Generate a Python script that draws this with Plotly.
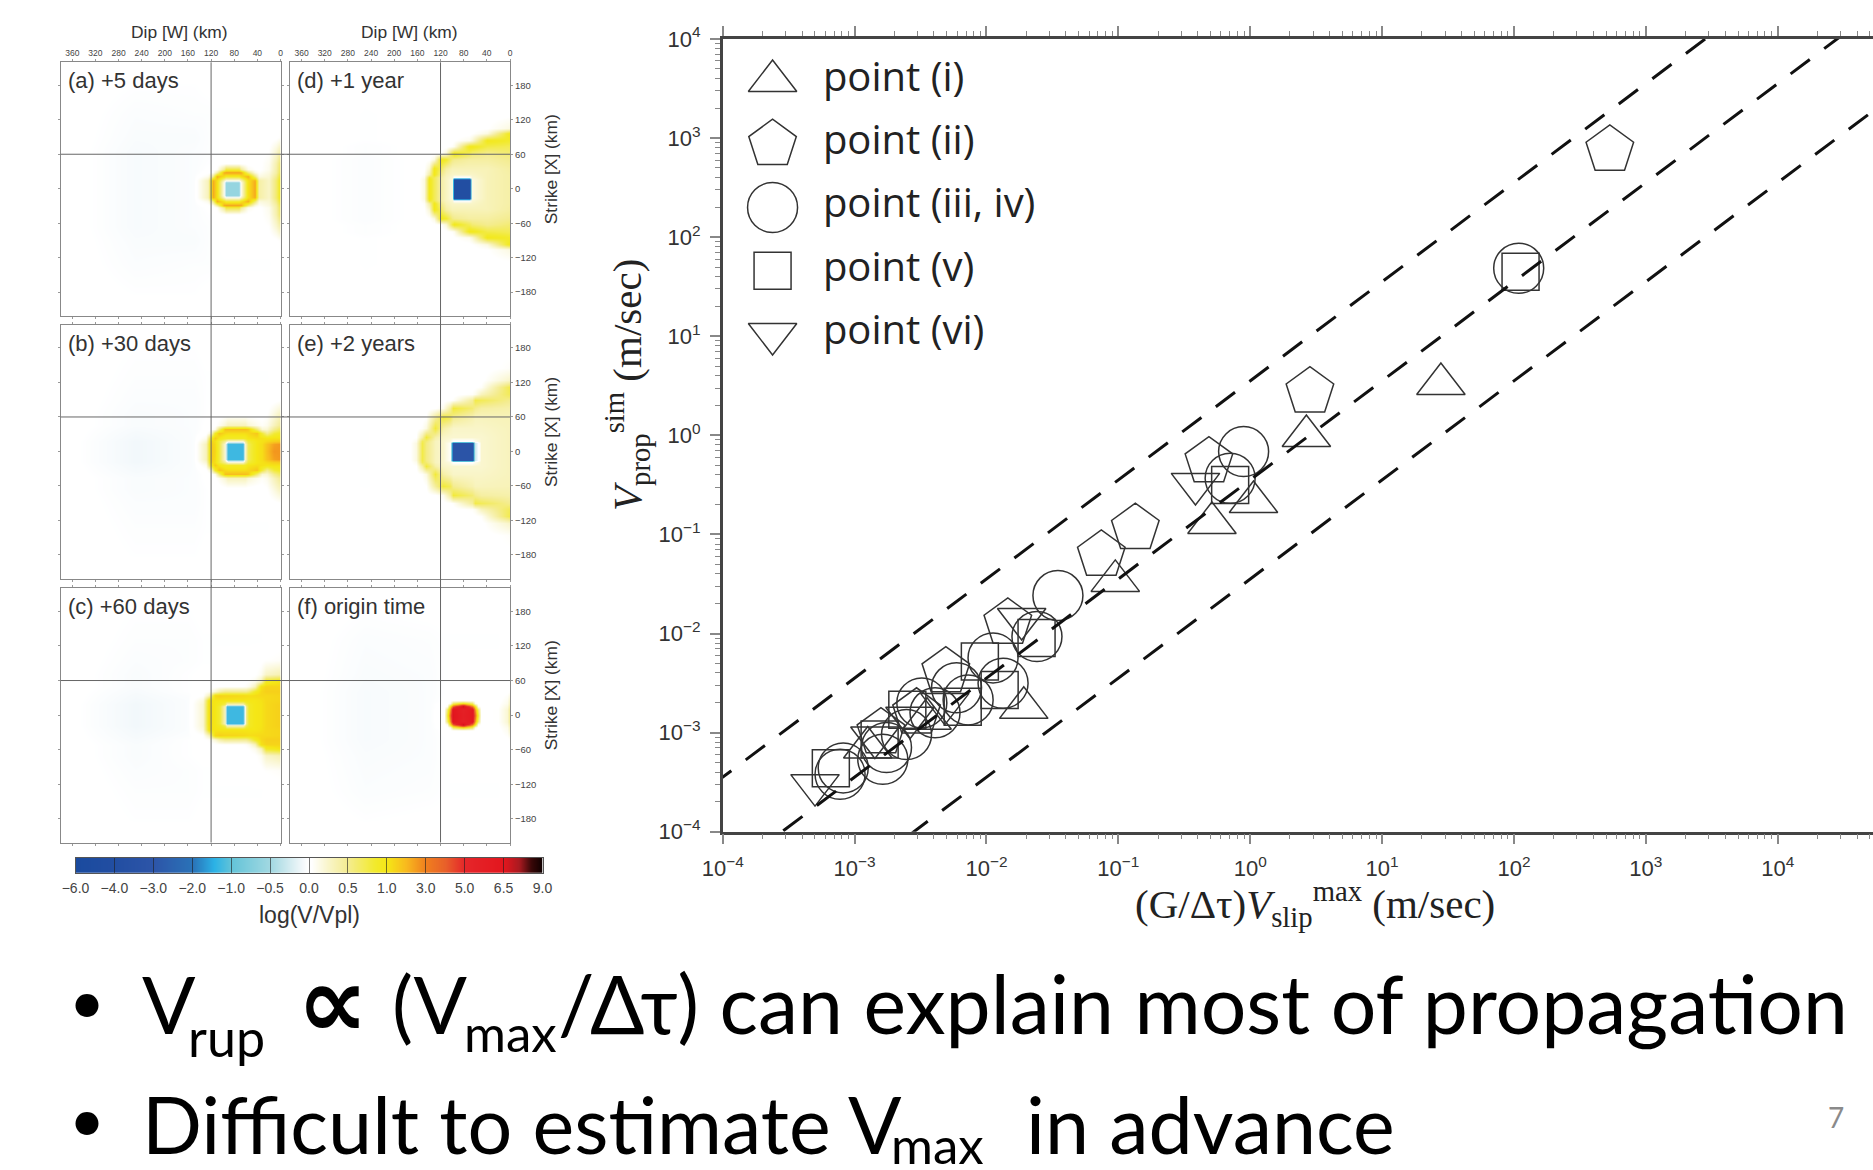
import numpy as np
import plotly.graph_objects as go

W, H = 1873, 1170

# ---------- scatter data (log10 of axis values) ----------
tri_up_x = [1.446, 0.426, 0.025, -0.29, -1.023, -1.717, -2.45, -2.90]
tri_up_y = [0.519, -0.006, -0.672, -0.884, -1.469, -2.75, -2.86, -3.15]
pent_x = [2.727, 0.453, -0.313, -0.871, -1.129, -1.838, -2.308, -2.53, -2.80]
pent_y = [2.88, 0.441, -0.265, -0.937, -1.207, -1.893, -2.384, -2.80, -3.00]
circ_x = [2.036, -0.05, -0.152, -1.458, -1.617, -1.95, -1.874, -2.139, -2.227, -2.39, -2.49, -2.606, -2.758, -2.786, -3.086, -3.11]
circ_y = [1.686, -0.164, -0.433, -1.617, -2.031, -2.246, -2.502, -2.67, -2.548, -2.80, -2.70, -3.02, -3.15, -3.27, -3.356, -3.42]
sq_x = [2.05, -0.152, -1.62, -1.9, -2.05, -2.18, -2.6, -2.81, -3.18]
sq_y = [1.652, -0.5, -2.045, -2.57, -2.283, -2.74, -2.77, -3.07, -3.36]
tri_dn_x = [-0.415, -1.733, -2.316, -2.58, -2.846, -3.30]
tri_dn_y = [-0.49, -1.853, -2.71, -2.85, -3.05, -3.53]

guide_x = [-4.08, 5.0]
guide_upper = [-3.53, 5.55]
guide_x_mid = [-4.05, 5.0]
guide_middle = [-4.5, 4.55]
guide_x_low = [-3.1, 5.0]
guide_lower = [-4.55, 3.55]

decades_x = [-4, -3, -2, -1, 0, 1, 2, 3, 4]
decades_y = [-4, -3, -2, -1, 0, 1, 2, 3, 4]
decade_labels = ["10<sup>−4</sup>", "10<sup>−3</sup>", "10<sup>−2</sup>", "10<sup>−1</sup>", "10<sup>0</sup>",
                 "10<sup>1</sup>", "10<sup>2</sup>", "10<sup>3</sup>", "10<sup>4</sup>"]

legend_labels = ["point (i)", "point (ii)", "point (iii, iv)", "point (v)", "point (vi)"]
legend_symbols = ["triangle-up-open", "pentagon-open", "circle-open", "square-open", "triangle-down-open"]
legend_sizes = [42, 50, 50, 37, 42]

# ---------- colour scale ----------
cb_ticks = [-6.0, -4.0, -3.0, -2.0, -1.0, -0.5, 0.0, 0.5, 1.0, 3.0, 5.0, 6.5, 9.0]
cb_labels = ["−6.0", "−4.0", "−3.0", "−2.0", "−1.0", "−0.5", "0.0", "0.5", "1.0", "3.0", "5.0", "6.5", "9.0"]
cb_positions = list(range(13))
scale_pos = [0, 1, 2, 3, 3.55, 4, 5, 5.6, 5.8, 5.95, 6.05, 6.5, 7, 7.7, 8, 8.5, 9, 9.5, 10, 11, 11.4, 11.7, 12]
scale_col = ["#1a4a9e", "#224ea2", "#2d55a8", "#2a73b8", "#2bb2e6", "#64c4d8", "#a3d9e2", "#dff0f4", "#f2f8fb", "#ffffff", "#ffffff",
             "#f9f5c8", "#f4ec90", "#f2ea2c", "#f5e716", "#f8b91e", "#f07f1e", "#e8602a", "#e5262a", "#e3161e", "#a81a20", "#3a0808", "#0c0000"]
colorscale = [[p / 12, c] for p, c in zip(scale_pos, scale_col)]

# ---------- slip-rate maps: log(V/Vpl), columns = dip (km), rows = |strike| (km) ----------
dip_a = [0, 8, 20, 38, 44, 56, 68, 72, 94, 98, 110, 118, 126, 150, 250, 380]
strike_a = [0, 11, 15, 22, 28, 33, 45, 65, 90, 130, 180, 220]
z_a = [
 [1.0, .6, .25, .4, 2.3, 1.1, .1, -.6, -.6, .1, 1.1, 2.3, .3, -.05, -.07, 0],
 [1.0, .6, .25, .4, 2.3, 1.1, .1, -.6, -.6, .1, 1.1, 2.3, .3, -.05, -.07, 0],
 [1.0, .6, .25, .4, 2.2, 1.1, .3, .1, .1, .3, 1.1, 2.2, .3, -.05, -.07, 0],
 [.9, .5, .2, .15, .6, 2.2, 1.1, .9, .9, 1.1, 2.2, .5, .1, -.05, -.07, 0],
 [.8, .4, .15, .05, .15, .6, 2.3, 2.4, 2.4, 2.2, .4, .05, 0, -.05, -.07, 0],
 [.75, .38, .1, 0, .03, .1, .5, .8, .8, .5, .05, 0, -.02, -.05, -.07, 0],
 [.7, .35, .08, 0, 0, 0, 0, 0, 0, 0, -.02, -.03, -.03, -.05, -.07, 0],
 [.4, .2, .03, -.01, -.02, -.02, -.02, -.02, -.02, -.02, -.03, -.03, -.04, -.05, -.07, 0],
 [.05, 0, -.02, -.02, -.02, -.02, -.02, -.02, -.02, -.02, -.03, -.03, -.04, -.06, -.06, 0],
 [0, -.02, -.03, -.03, -.03, -.03, -.03, -.03, -.03, -.03, -.03, -.03, -.04, -.04, -.05, 0],
 [0, -.01, -.02, -.02, -.02, -.02, -.02, -.02, -.02, -.02, -.02, -.02, -.02, -.03, -.03, 0],
 [0, 0, 0, 0, 0, 0, 0, 0, 0, 0, 0, 0, 0, 0, 0, 0],
]
dip_b = [0, 12, 24, 32, 42, 56, 62, 66, 92, 96, 106, 114, 120, 130, 150, 250, 380]
strike_b = [0, 13, 18, 24, 32, 39, 46, 65, 90, 130, 180, 220]
z_b = [
 [2.6, 2.6, 1.9, 1.2, 1.0, .7, .2, -1.3, -1.3, .2, .8, 1.4, 1.6, .3, -.05, -.1, 0],
 [2.6, 2.4, 1.8, 1.2, 1.0, .7, .2, -1.3, -1.3, .2, .8, 1.3, 1.6, .3, -.05, -.1, 0],
 [1.6, 1.5, 1.3, 1.1, 1.0, .8, .5, .2, .2, .5, .8, 1.2, 1.4, .2, -.05, -.1, 0],
 [1.1, 1.1, 1.0, 1.1, 1.2, 1.0, .9, .9, .9, .9, 1.0, 1.6, .9, .1, -.05, -.09, 0],
 [.9, .8, .5, .8, 1.7, 1.3, 1.2, 1.2, 1.2, 1.3, 1.7, .9, .2, 0, -.05, -.08, 0],
 [.7, .5, .2, .2, .6, 1.7, 1.9, 1.9, 1.9, 1.8, .6, .1, 0, -.02, -.05, -.07, 0],
 [.5, .3, .1, .05, .1, .2, .3, .3, .3, .2, .08, 0, -.01, -.02, -.05, -.06, 0],
 [.3, .15, .02, 0, -.01, -.01, -.01, -.01, -.01, -.01, -.02, -.02, -.02, -.03, -.05, -.06, 0],
 [.02, 0, -.02, -.02, -.02, -.02, -.02, -.02, -.02, -.02, -.02, -.02, -.03, -.03, -.05, -.05, 0],
 [0, -.02, -.03, -.03, -.03, -.03, -.03, -.03, -.03, -.03, -.03, -.03, -.03, -.03, -.04, -.04, 0],
 [0, -.01, -.02, -.02, -.02, -.02, -.02, -.02, -.02, -.02, -.02, -.02, -.02, -.02, -.03, -.03, 0],
 [0, 0, 0, 0, 0, 0, 0, 0, 0, 0, 0, 0, 0, 0, 0, 0, 0],
]
dip_c = [0, 25, 35, 45, 55, 61, 65, 93, 97, 105, 113, 124, 134, 160, 250, 380]
strike_c = [0, 15, 18, 25, 35, 42, 50, 58, 70, 95, 130, 180, 220]
z_c = [
 [1.5, 1.3, 1.05, 1.0, .9, .5, -1.3, -1.3, .3, .8, 1.0, 1.2, .2, -.05, -.1, 0],
 [1.5, 1.3, 1.05, 1.0, .9, .5, -1.3, -1.3, .3, .8, 1.0, 1.2, .2, -.05, -.1, 0],
 [1.5, 1.3, 1.05, 1.0, .9, .7, .3, .3, .7, .9, 1.0, 1.15, .2, -.05, -.1, 0],
 [1.4, 1.3, 1.1, 1.0, 1.0, 1.0, 1.0, 1.0, 1.0, 1.0, 1.05, 1.1, .15, -.05, -.09, 0],
 [1.4, 1.3, 1.3, 1.25, 1.2, 1.25, 1.3, 1.4, 1.4, 1.5, 1.3, .3, .02, -.04, -.08, 0],
 [1.5, 1.5, 1.3, .9, .6, .5, .5, .5, .5, .4, .2, .05, 0, -.03, -.07, 0],
 [1.4, 1.4, 1.1, .3, .1, .05, .03, .03, .03, .02, 0, -.01, -.02, -.03, -.06, 0],
 [1.1, .9, .3, .1, .03, .01, 0, 0, 0, 0, -.01, -.01, -.02, -.03, -.06, 0],
 [.35, .25, .08, .01, 0, -.01, -.01, -.01, -.01, -.01, -.02, -.02, -.02, -.03, -.06, 0],
 [.05, .03, 0, -.01, -.02, -.02, -.02, -.02, -.02, -.02, -.02, -.03, -.03, -.04, -.05, 0],
 [0, -.02, -.03, -.03, -.03, -.03, -.03, -.03, -.03, -.03, -.03, -.03, -.03, -.04, -.04, 0],
 [0, -.01, -.02, -.02, -.02, -.02, -.02, -.02, -.02, -.02, -.02, -.02, -.02, -.03, -.03, 0],
 [0, 0, 0, 0, 0, 0, 0, 0, 0, 0, 0, 0, 0, 0, 0, 0],
]
dip_d = [0, 40, 65, 70, 96, 101, 110, 120, 132, 140, 148, 160, 250, 380]
strike_d = [0, 16, 20, 25, 35, 51, 62, 74, 85, 97, 106, 130, 180, 220]
z_d = [
 [.4, .32, .15, -4, -4, .15, .28, .4, .7, .95, .15, -.02, -.05, 0],
 [.4, .32, .15, -4, -4, .15, .28, .4, .7, .95, .15, -.02, -.05, 0],
 [.4, .32, .2, 0, 0, .2, .28, .4, .7, .85, .1, -.02, -.05, 0],
 [.4, .32, .25, .25, .25, .25, .32, .5, .95, .4, .05, -.02, -.05, 0],
 [.42, .32, .32, .32, .32, .32, .42, .65, .95, .2, .02, -.02, -.05, 0],
 [.5, .42, .42, .42, .5, .55, .85, .95, .15, .02, 0, -.02, -.05, 0],
 [.6, .5, .6, .7, .95, .8, .2, .03, 0, -.01, -.01, -.02, -.04, 0],
 [.7, .75, .95, .95, .1, .05, 0, -.01, -.01, -.01, -.01, -.02, -.04, 0],
 [.85, .95, .2, .1, .02, 0, -.01, -.01, -.01, -.01, -.02, -.02, -.03, 0],
 [.95, .15, .02, 0, -.01, -.01, -.01, -.02, -.02, -.02, -.02, -.02, -.03, 0],
 [.15, .02, 0, -.01, -.01, -.01, -.01, -.02, -.02, -.02, -.02, -.02, -.03, 0],
 [0, -.01, -.02, -.02, -.02, -.02, -.02, -.02, -.02, -.02, -.02, -.02, -.03, 0],
 [0, -.01, -.01, -.01, -.01, -.01, -.01, -.01, -.01, -.01, -.01, -.01, -.02, 0],
 [0, 0, 0, 0, 0, 0, 0, 0, 0, 0, 0, 0, 0, 0],
]
dip_e = [0, 50, 60, 66, 98, 104, 115, 130, 145, 152, 162, 175, 250, 380]
strike_e = [0, 15, 19, 25, 40, 60, 75, 90, 100, 113, 125, 145, 190, 220]
z_e = [
 [.3, .22, -.3, -3.2, -3.2, .05, .22, .3, .55, .75, .15, 0, -.03, 0],
 [.3, .22, -.3, -3.2, -3.2, .05, .22, .3, .55, .75, .15, 0, -.03, 0],
 [.3, .22, .1, 0, 0, .15, .22, .3, .6, .7, .1, 0, -.03, 0],
 [.3, .22, .22, .22, .22, .22, .25, .4, .8, .4, .03, 0, -.03, 0],
 [.3, .25, .25, .25, .25, .3, .4, .8, .15, .05, 0, -.01, -.03, 0],
 [.32, .3, .3, .35, .5, .7, .8, .45, .03, 0, -.01, -.01, -.03, 0],
 [.38, .42, .5, .6, .8, .45, .1, .02, 0, -.01, -.01, -.01, -.02, 0],
 [.5, .7, .75, .45, .05, .02, 0, -.01, -.01, -.01, -.01, -.01, -.02, 0],
 [.7, .3, .1, .05, 0, -.01, -.01, -.01, -.01, -.01, -.01, -.01, -.02, 0],
 [.75, .05, .02, 0, -.01, -.01, -.01, -.01, -.01, -.01, -.01, -.01, -.02, 0],
 [.25, 0, -.01, -.01, -.01, -.01, -.01, -.01, -.01, -.01, -.01, -.01, -.02, 0],
 [.05, -.01, -.01, -.01, -.01, -.01, -.01, -.01, -.01, -.01, -.01, -.01, -.01, 0],
 [0, 0, -.01, -.01, -.01, -.01, -.01, -.01, -.01, -.01, -.01, -.01, -.01, 0],
 [0, 0, 0, 0, 0, 0, 0, 0, 0, 0, 0, 0, 0, 0],
]
dip_f = [0, 6, 20, 50, 56, 60, 66, 82, 98, 104, 108, 114, 140, 250, 380]
strike_f = [0, 10, 16, 21, 26, 40, 70, 130, 180, 220]
z_f = [
 [.5, .2, .03, .02, .8, 3.5, 6.2, 5.7, 6.6, 3.5, .8, .02, -.05, -.07, 0],
 [.5, .2, .03, .02, .6, 2.5, 6.2, 5.5, 6.5, 2.5, .6, .02, -.05, -.07, 0],
 [.4, .15, .02, .01, .1, 1.0, 3.5, 7.0, 4.0, 1.0, .1, 0, -.05, -.07, 0],
 [.3, .1, .01, 0, 0, .1, .7, 1.2, .7, .1, 0, 0, -.05, -.07, 0],
 [.25, .08, 0, -.01, -.01, -.01, 0, .02, 0, -.01, -.01, -.02, -.05, -.07, 0],
 [.05, .02, -.01, -.02, -.02, -.02, -.02, -.02, -.02, -.02, -.02, -.03, -.05, -.07, 0],
 [0, -.01, -.02, -.02, -.02, -.02, -.02, -.02, -.02, -.02, -.03, -.03, -.05, -.06, 0],
 [0, -.02, -.03, -.03, -.03, -.03, -.03, -.03, -.03, -.03, -.03, -.03, -.04, -.05, 0],
 [0, -.01, -.02, -.02, -.02, -.02, -.02, -.02, -.02, -.02, -.02, -.02, -.02, -.03, 0],
 [0, 0, 0, 0, 0, 0, 0, 0, 0, 0, 0, 0, 0, 0, 0],
]

panel_titles = ["(a) +5 days", "(b) +30 days", "(c) +60 days", "(d) +1 year", "(e) +2 years", "(f) origin time"]
panel_data = [(dip_a, strike_a, z_a), (dip_b, strike_b, z_b), (dip_c, strike_c, z_c),
              (dip_d, strike_d, z_d), (dip_e, strike_e, z_e), (dip_f, strike_f, z_f)]
dip_ticks = [360, 320, 280, 240, 200, 160, 120, 80, 40, 0]
strike_ticks = [180, 120, 60, 0, -60, -120, -180]
cross_dip = 120
cross_strike = 60

# ---------- pixel layout helpers ----------
def dx(a, b):
    return [a / W, b / W]
def dy(top, bottom):
    return [1 - bottom / H, 1 - top / H]

col_x = [(60.7, 280.5), (290, 510)]
row_y = [(62.3, 315.7), (325, 578.5), (588.3, 842.5)]
GRAY = "#666666"
fig = go.Figure()
layout = {}
ax_n = 0

for i, (title, (dips, strikes, zz)) in enumerate(zip(panel_titles, panel_data)):
    ax_n += 1
    c, r = i // 3, i % 3
    suffix = str(ax_n) if ax_n > 1 else ""
    z = np.array(zz, dtype=float)
    s = np.array(strikes, dtype=float)
    full_s = np.concatenate([-s[::-1], s[1:]])
    full_z = np.vstack([z[::-1], z[1:]])
    idx = np.interp(full_z, cb_ticks, cb_positions)
    fig.add_trace(go.Heatmap(x=dips, y=full_s, z=idx, zmin=0, zmax=12, colorscale=colorscale, zsmooth="best",
                             showscale=False, hoverinfo="skip", xaxis="x" + suffix, yaxis="y" + suffix))
    layout["xaxis" + suffix] = dict(
        domain=dx(*col_x[c]), range=[380, 0], anchor="y" + suffix, side="top", automargin=False,
        tickmode="array", tickvals=dip_ticks, showticklabels=(r == 0),
        ticks="outside", ticklen=2, tickcolor="#999999", mirror="ticks",
        showline=True, linecolor="#888888", linewidth=1, showgrid=False, zeroline=False,
        tickfont=dict(family="Liberation Sans", size=8.5, color="#444444"))
    layout["yaxis" + suffix] = dict(
        domain=dy(*row_y[r]), range=[-221, 220], anchor="x" + suffix, side="right" if c == 1 else "left", automargin=False,
        tickmode="array", tickvals=strike_ticks, showticklabels=(c == 1),
        ticks="outside", ticklen=2, tickcolor="#999999", mirror="ticks",
        showline=True, linecolor="#888888", linewidth=1, showgrid=False, zeroline=False,
        tickfont=dict(family="Liberation Sans", size=9.5, color="#444444"))

# colour bar
ax_n += 1
cb_suffix = str(ax_n)
fig.add_trace(go.Heatmap(x=cb_positions, y=[0, 1], z=[cb_positions, cb_positions], zmin=0, zmax=12,
                         colorscale=colorscale, zsmooth="best", showscale=False, hoverinfo="skip",
                         xaxis="x" + cb_suffix, yaxis="y" + cb_suffix))
layout["xaxis" + cb_suffix] = dict(
    domain=dx(75.5, 542.5), range=[0, 12], anchor="y" + cb_suffix, tickmode="array", tickvals=cb_positions, automargin=False,
    ticktext=cb_labels, ticks="inside", ticklen=15, tickcolor="rgba(30,30,30,0.6)", tickwidth=1, ticklabelstandoff=2,
    showline=True, linecolor="#555555", linewidth=1, mirror=True, showgrid=False, zeroline=False,
    tickfont=dict(family="Liberation Sans", size=14, color="#444444"))
layout["yaxis" + cb_suffix] = dict(domain=dy(858, 872.7), range=[0, 1], anchor="x" + cb_suffix, showticklabels=False, automargin=False,
                                   ticks="", showline=True, linecolor="#555555", linewidth=1, mirror=True,
                                   showgrid=False, zeroline=False)

# main scatter
ax_n += 1
m = str(ax_n)
def main_trace(name, sym, size, lx, ly):
    fig.add_trace(go.Scatter(x=10 ** np.array(lx), y=10 ** np.array(ly), mode="markers", name=name, showlegend=False,
                             marker=dict(symbol=sym, size=size, color="#333333", line=dict(width=1.5, color="#333333")),
                             xaxis="x" + m, yaxis="y" + m))
main_trace(legend_labels[0], legend_symbols[0], legend_sizes[0], tri_up_x, tri_up_y)
main_trace(legend_labels[1], legend_symbols[1], legend_sizes[1], pent_x, pent_y)
main_trace(legend_labels[2], legend_symbols[2], legend_sizes[2], circ_x, circ_y)
main_trace(legend_labels[3], legend_symbols[3], legend_sizes[3], sq_x, sq_y)
main_trace(legend_labels[4], legend_symbols[4], legend_sizes[4], tri_dn_x, tri_dn_y)
for lx, ly in [(guide_x, guide_upper), (guide_x_mid, guide_middle), (guide_x_low, guide_lower)]:
    fig.add_trace(go.Scatter(x=10 ** np.array(lx), y=10 ** np.array(ly), mode="lines", showlegend=False,
                             line=dict(color="#111111", width=3, dash="24px,18px"),
                             xaxis="x" + m, yaxis="y" + m))
axis_common = dict(type="log", tickmode="array", ticktext=decade_labels, showline=True, linecolor="#444444", linewidth=2.5,
                   ticks="outside", ticklen=10, tickcolor="#888888", tickwidth=1.5, mirror="ticks", automargin=False,
                   showgrid=False, zeroline=False, ticklabelstandoff=5,
                   minor=dict(ticks="outside", ticklen=5, tickcolor="#888888", tickwidth=1.2, dtick="D1", showgrid=False),
                   tickfont=dict(family="Liberation Sans", size=22, color="#333333"))
layout["xaxis" + m] = dict(domain=dx(722.7, W), range=[-4, 4.7226], anchor="y" + m,
                           tickvals=[10.0 ** d for d in decades_x], **axis_common)
layout["yaxis" + m] = dict(domain=dy(39, 831.7), range=[-4, 4], anchor="x" + m,
                           tickvals=[10.0 ** d for d in decades_y], **axis_common)

# legend built as a small category panel
ax_n += 1
l = str(ax_n)
for lab, sym, size in zip(legend_labels, legend_symbols, legend_sizes):
    fig.add_trace(go.Scatter(x=[0], y=[lab], mode="markers", showlegend=False,
                             marker=dict(symbol=sym, size=size, color="#333333", line=dict(width=1.5, color="#333333")),
                             xaxis="x" + l, yaxis="y" + l))
fig.add_trace(go.Scatter(x=[1] * len(legend_labels), y=legend_labels, mode="text", text=legend_labels, showlegend=False,
                         textposition="middle right", textfont=dict(family="Open Sans", size=40, color="#222222"),
                         xaxis="x" + l, yaxis="y" + l))
layout["xaxis" + l] = dict(domain=dx(735, 1135), range=[-0.7462, 7.2], anchor="y" + l, visible=False, fixedrange=True, automargin=False)
layout["yaxis" + l] = dict(domain=dy(49.4, 365.6), type="category", categoryorder="array", categoryarray=legend_labels, automargin=False,
                           range=[4.5, -0.5], anchor="x" + l, visible=False, fixedrange=True)

# cross-hair lines across the map columns / rows
shapes = []
for c in range(2):
    xr = ("x" + (str(c * 3 + 1) if c else ""))
    shapes.append(dict(type="line", xref=xr, yref="paper", x0=cross_dip, x1=cross_dip,
                       y0=1 - row_y[2][1] / H, y1=1 - row_y[0][0] / H, line=dict(color=GRAY, width=1)))
for r in range(3):
    yr = "y" + (str(r + 1) if r else "")
    shapes.append(dict(type="line", yref=yr, xref="paper", y0=cross_strike, y1=cross_strike,
                       x0=col_x[0][0] / W, x1=col_x[1][1] / W, line=dict(color=GRAY, width=1)))

# text
def txt(x, y, s, size, family="Liberation Sans", color="#333333", xanchor="left", yanchor="middle", angle=0):
    return dict(x=x / W, y=1 - y / H, xref="paper", yref="paper", text=s, showarrow=False, xanchor=xanchor,
                yanchor=yanchor, textangle=angle, align="left", borderpad=0,
                font=dict(family=family, size=size, color=color))

SL = "Lato, Noto Sans, DejaVu Sans"
ann = []
for i, title in enumerate(panel_titles):
    c, r = i // 3, i % 3
    ann.append(txt(col_x[c][0] + 6, row_y[r][0] + 18, title, 22))
ann.append(txt(179.5, 32, "Dip [W] (km)", 17.4, xanchor="center"))
ann.append(txt(409, 32, "Dip [W] (km)", 17.4, xanchor="center"))
for r in range(3):
    ann.append(txt(551, row_y[r][0] + 107, "Strike [X] (km)", 17.4, xanchor="center", angle=-90))
ann.append(txt(309, 915, "log(V/Vpl)", 23, xanchor="center"))
ann.append(txt(1315, 904, "(G/Δτ)<i>V</i><sub>slip</sub><sup>max</sup> (m/sec)", 41, family="Liberation Serif",
               color="#222222", xanchor="center"))
ann.append(txt(627, 385, "<i>V</i><sub>prop</sub><sup>sim</sup> (m/sec)", 41, family="Liberation Serif",
               color="#222222", xanchor="center", angle=-90))
# slide text
ann += [
    txt(68, 1000, "•", 62, SL, "#000000"),
    txt(141, 1003, "V", 79, SL, "#000000"),
    txt(187, 1037, "rup", 52, SL, "#000000"),
    txt(296, 1002, "<b>∝</b>", 100, "DejaVu Sans", "#000000"),
    txt(391, 1003, "(V", 79, SL, "#000000"),
    txt(463, 1032, "max", 51, SL, "#000000"),
    txt(557, 1003, "/Δτ) can explain most of propagation", 80.5, SL, "#000000"),
    txt(68, 1118, "•", 62, SL, "#000000"),
    txt(141, 1123, "Difficult to estimate V", 79, SL, "#000000"),
    txt(890, 1144, "max", 51, SL, "#000000"),
    txt(1025, 1123, "in advance", 79, SL, "#000000"),
    txt(1827, 1117, "7", 28, SL, "#8a8a8a"),
]

fig.update_layout(width=W, height=H, margin=dict(l=0, r=0, t=0, b=0, autoexpand=False), paper_bgcolor="white", plot_bgcolor="white",
                  showlegend=False, annotations=ann, shapes=shapes, **layout)
fig.write_html("out.html", config={"displayModeBar": False},
               post_script="document.body.style.margin='0';document.body.style.overflow='hidden';")
